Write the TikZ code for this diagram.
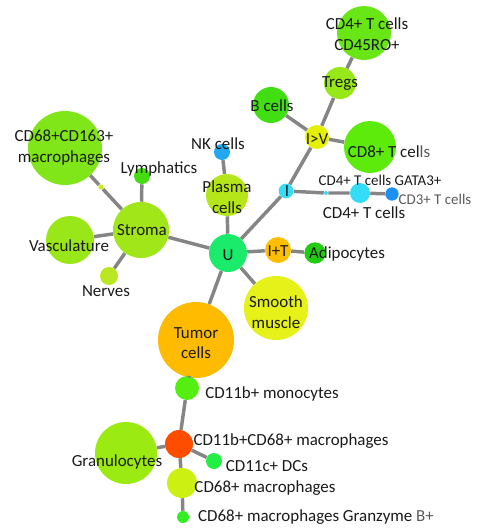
\documentclass[tikz,border=0pt]{standalone}
\usepackage{fontspec}
\setmainfont{Carlito}

\definecolor{edgegray}{HTML}{858585}
\definecolor{txt}{HTML}{1A1A1A}
\definecolor{lighttxt}{HTML}{5A5A5A}

\begin{document}
\begin{tikzpicture}[x=0.75pt,y=-0.75pt,
  vertex/.style={circle,inner sep=0pt,draw=none},
  lbl/.style={text=txt,inner sep=0pt,font=\fontsize{12.7}{15.5}\selectfont,align=center},
  smalllbl/.style={text=txt,inner sep=0pt,font=\fontsize{11.2}{13}\selectfont},
  edge/.style={draw=edgegray,line width=2.6pt}]
\useasboundingbox (0,0) rectangle (484,529);

% vertices
\node[vertex,fill={rgb,255:red,104;green,230;blue,22},minimum size=40.5pt] (cdro) at (364,33) {};
\node[vertex,fill={rgb,255:red,150;green,232;blue,24},minimum size=24pt] (tregs) at (340,83) {};
\node[vertex,fill={rgb,255:red,64;green,222;blue,18},minimum size=27pt] (bcells) at (271,105) {};
\node[vertex,fill={rgb,255:red,228;green,240;blue,0},minimum size=18pt] (iv) at (317,137) {};
\node[vertex,fill={rgb,255:red,92;green,235;blue,10},minimum size=39pt] (cdeight) at (370,147) {};
\node[vertex,fill={rgb,255:red,51;green,221;blue,245},minimum size=11pt] (inode) at (286,191) {};
\node[vertex,fill={rgb,255:red,51;green,221;blue,245},minimum size=3pt] (gata) at (326,193) {};
\node[vertex,fill={rgb,255:red,51;green,221;blue,248},minimum size=15pt] (cdfour) at (360,193) {};
\node[vertex,fill={rgb,255:red,30;green,144;blue,240},minimum size=10pt] (cdthree) at (392,194) {};
\node[vertex,fill={rgb,255:red,34;green,168;blue,240},minimum size=12pt] (nk) at (222,152) {};
\node[vertex,fill={rgb,255:red,181;green,230;blue,26},minimum size=31.5pt] (plasma) at (227,195) {};
\node[vertex,fill={rgb,255:red,26;green,235;blue,107},minimum size=28.5pt] (unode) at (228,253) {};
\node[vertex,fill={rgb,255:red,128;green,230;blue,25},minimum size=55.5pt] (cdsixtythree) at (65,148) {};
\node[vertex,fill={rgb,255:red,204;green,235;blue,34},minimum size=4pt] (smalldot) at (101,187) {};
\node[vertex,fill={rgb,255:red,68;green,221;blue,17},minimum size=12pt] (lymph) at (142,176) {};
\node[vertex,fill={rgb,255:red,160;green,230;blue,25},minimum size=42pt] (stroma) at (141,230) {};
\node[vertex,fill={rgb,255:red,153;green,230;blue,25},minimum size=36pt] (vasc) at (70,240) {};
\node[vertex,fill={rgb,255:red,187;green,230;blue,34},minimum size=13.5pt] (nerves) at (109,276) {};
\node[vertex,fill={rgb,255:red,255;green,191;blue,0},minimum size=19.5pt] (itnode) at (278,250) {};
\node[vertex,fill={rgb,255:red,34;green,204;blue,17},minimum size=16pt] (adipo) at (315,253) {};
\node[vertex,fill={rgb,255:red,230;green,240;blue,25},minimum size=48pt] (smooth) at (276,308) {};
\node[vertex,fill={rgb,255:red,255;green,187;blue,0},minimum size=57pt] (tumor) at (196,340) {};
\node[vertex,fill={rgb,255:red,85;green,238;blue,17},minimum size=18pt] (mono) at (187,388) {};
\node[vertex,fill={rgb,255:red,255;green,77;blue,0},minimum size=21pt] (macro) at (179,444) {};
\node[vertex,fill={rgb,255:red,155;green,235;blue,18},minimum size=46.5pt] (granulo) at (126,453) {};
\node[vertex,fill={rgb,255:red,34;green,238;blue,68},minimum size=12pt] (dcs) at (214,461) {};
\node[vertex,fill={rgb,255:red,204;green,240;blue,17},minimum size=22.5pt] (cdsixeight) at (182,483) {};
\node[vertex,fill={rgb,255:red,51;green,238;blue,34},minimum size=9pt] (granzyme) at (183,517) {};

% edges
\draw[edge] (cdro) -- (tregs);
\draw[edge] (tregs) -- (iv);
\draw[edge] (bcells) -- (iv);
\draw[edge] (iv) -- (cdeight);
\draw[edge] (iv) -- (inode);
\draw[edge] (inode) -- (gata) -- (cdfour) -- (cdthree);
\draw[edge] (inode) -- (unode);
\draw[edge] (nk) -- (plasma);
\draw[edge] (plasma) -- (unode);
\draw[edge] (unode) -- (stroma);
\draw[edge] (stroma) -- (smalldot) -- (cdsixtythree);
\draw[edge] (stroma) -- (lymph);
\draw[edge] (stroma) -- (vasc);
\draw[edge] (stroma) -- (nerves);
\draw[edge] (unode) -- (itnode) -- (adipo);
\draw[edge] (unode) -- (smooth);
\draw[edge] (unode) -- (tumor);
\draw[edge] (tumor) -- (mono) -- (macro);
\draw[edge] (macro) -- (granulo);
\draw[edge] (macro) -- (dcs);
\draw[edge] (macro) -- (cdsixeight) -- (granzyme);

% labels
\node[lbl] (cdrolbl) at (367,34) {CD4+ T cells\\CD45RO+};
\node[lbl] (tregslbl) at (340,84) {Tregs};
\node[lbl] (bcellslbl) at (272,106) {B cells};
\node[lbl] (ivlbl) at (317,139) {I>V};
\node[lbl] (cdeightlbl) at (389,152) {CD8+ T cel{\color{lighttxt}ls}};
\node[lbl] (ilbl) at (287,191) {I};
\node[smalllbl] (gatalbl) at (380,180) {CD4+ T cells GATA3+};
\node[lbl] (cdfourlbl) at (364,213) {CD4+ T cells};
\node[smalllbl,text=lighttxt] (cdthreelbl) at (435,199) {CD3+ T cells};
\node[lbl] (nklbl) at (218,144) {NK cells};
\node[lbl] (plasmalbl) at (227,197) {Plasma\\cells};
\node[lbl] (ulbl) at (228,255) {U};
\node[lbl] (cdsixtythreelbl) at (64,148) {CD68+CD163+\\macrophages};
\node[lbl] (lymphlbl) at (159,169) {Lymphatics};
\node[lbl] (stromalbl) at (142,230) {Stroma};
\node[lbl] (vasclbl) at (69,246) {Vasculature};
\node[lbl] (nerveslbl) at (106,291) {Nerves};
\node[lbl] (itlbl) at (278,251) {I+T};
\node[lbl] (adipolbl) at (347,254) {Adipocytes};
\node[lbl] (smoothlbl) at (276,312) {Smooth\\muscle};
\node[lbl] (tumorlbl) at (196,343) {Tumor\\cells};
\node[lbl] (monolbl) at (272,394) {CD11b+ monocytes};
\node[lbl] (macrolbl) at (291,441) {CD11b+CD68+ macrophages};
\node[lbl] (granulolbl) at (117,462) {Granulocytes};
\node[lbl] (dcslbl) at (267,466) {CD11c+ DCs};
\node[lbl] (cdsixeightlbl) at (265,488) {CD68+ macrophages};
\node[lbl] (granzymelbl) at (316,517) {CD68+ macrophages Granzyme {\color{lighttxt}B+}};
\end{tikzpicture}
\end{document}
